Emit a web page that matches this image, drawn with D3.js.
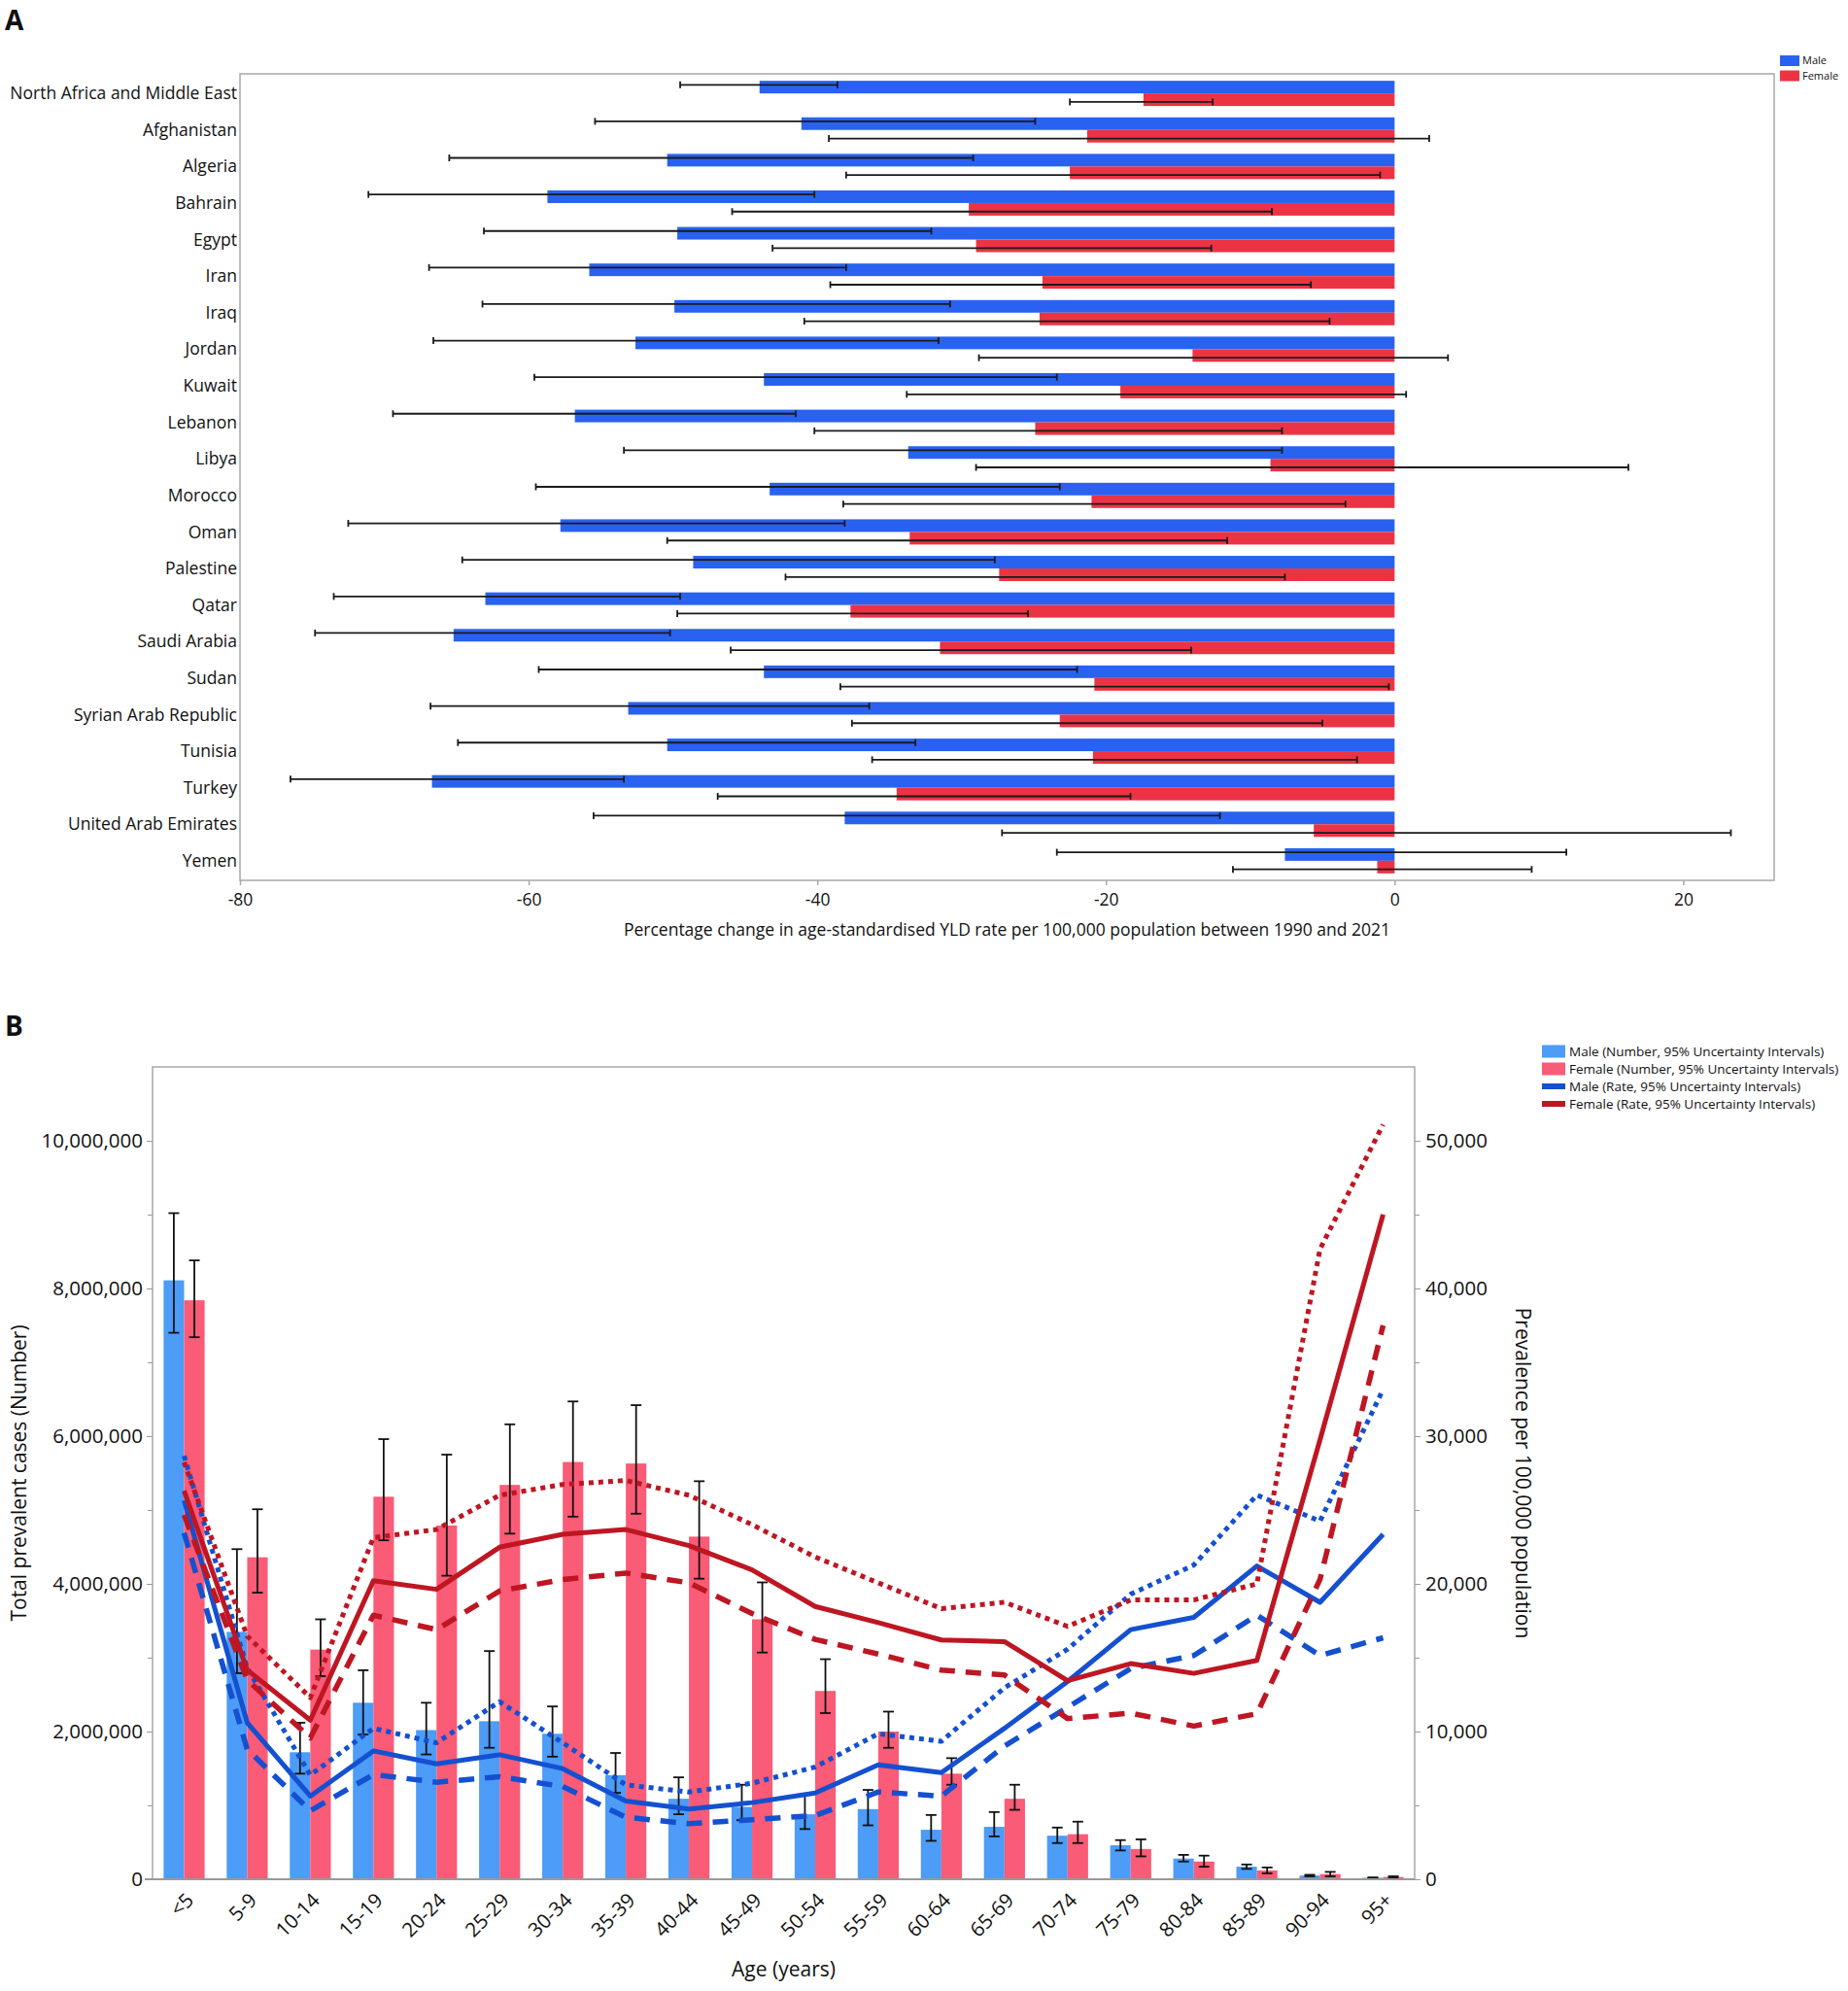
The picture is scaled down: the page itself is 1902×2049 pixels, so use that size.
<!DOCTYPE html>
<html>
<head>
<meta charset="utf-8">
<script src="https://cdn.jsdelivr.net/npm/d3@7"></script>
<style>
  body { margin: 0; background: #fff; }
  text { font-family: "Open Sans", "Noto Sans", sans-serif; fill: #111; }
</style>
</head>
<body>
<div id="chart"></div>
<script>
// ---------- panel A data (percentage change 1990-2021)
const countries = ["North Africa and Middle East", "Afghanistan", "Algeria", "Bahrain", "Egypt", "Iran", "Iraq",
    "Jordan", "Kuwait", "Lebanon", "Libya", "Morocco", "Oman", "Palestine", "Qatar", "Saudi Arabia", "Sudan",
    "Syrian Arab Republic", "Tunisia", "Turkey", "United Arab Emirates", "Yemen"];
const maleChange = [-44.0, -41.1, -50.4, -58.7, -49.7, -55.8, -49.9, -52.6, -43.7, -56.8, -33.7, -43.3, -57.8, -48.6, -63.0, -65.2, -43.7, -53.1, -50.4, -66.7, -38.1, -7.6];
const maleLower = [-49.5, -55.4, -65.5, -71.1, -63.1, -66.9, -63.2, -66.6, -59.6, -69.4, -53.4, -59.5, -72.5, -64.6, -73.5, -74.8, -59.3, -66.8, -64.9, -76.5, -55.5, -23.4];
const maleUpper = [-38.6, -24.9, -29.2, -40.2, -32.1, -38.0, -30.8, -31.6, -23.4, -41.5, -7.8, -23.2, -38.1, -27.7, -49.5, -50.2, -22.0, -36.4, -33.2, -53.4, -12.1, 11.9];
const femaleChange = [-17.4, -21.3, -22.5, -29.5, -29.0, -24.4, -24.6, -14.0, -19.0, -24.9, -8.6, -21.0, -33.6, -27.4, -37.7, -31.5, -20.8, -23.2, -20.9, -34.5, -5.6, -1.2];
const femaleLower = [-22.5, -39.2, -38.0, -45.9, -43.1, -39.1, -40.9, -28.8, -33.8, -40.2, -29.0, -38.2, -50.4, -42.2, -49.7, -46.0, -38.4, -37.6, -36.2, -46.9, -27.2, -11.2];
const femaleUpper = [-12.6, 2.4, -1.0, -8.5, -12.7, -5.8, -4.5, 3.7, 0.8, -7.8, 16.2, -3.4, -11.6, -7.6, -25.4, -14.1, -0.4, -5.0, -2.6, -18.3, 23.3, 9.5];
const xTicksA = [-80, -60, -40, -20, 0, 20];

// ---------- panel B data (prevalent cases and rate by age)
const ageGroups = ["<5", "5-9", "10-14", "15-19", "20-24", "25-29", "30-34", "35-39", "40-44", "45-49",
    "50-54", "55-59", "60-64", "65-69", "70-74", "75-79", "80-84", "85-89", "90-94", "95+"];
const maleNumber = [8110000, 3350000, 1720000, 2390000, 2020000, 2140000, 1970000, 1410000, 1090000, 980000, 880000, 950000, 670000, 710000, 590000, 460000, 280000, 170000, 50000, 20000];
const maleNumLower = [7400000, 2790000, 1430000, 1960000, 1690000, 1780000, 1660000, 1170000, 880000, 800000, 680000, 730000, 520000, 580000, 490000, 390000, 240000, 140000, 40000, 15000];
const maleNumUpper = [9020000, 4470000, 2120000, 2830000, 2390000, 3090000, 2340000, 1710000, 1380000, 1280000, 1150000, 1210000, 870000, 910000, 700000, 530000, 330000, 200000, 60000, 25000];
const femaleNumber = [7840000, 4360000, 3110000, 5180000, 4790000, 5340000, 5650000, 5630000, 4640000, 3520000, 2550000, 2000000, 1430000, 1090000, 610000, 410000, 240000, 120000, 70000, 30000];
const femaleNumLower = [7340000, 3880000, 2750000, 4590000, 4110000, 4680000, 4910000, 4950000, 4070000, 3070000, 2250000, 1780000, 1280000, 940000, 490000, 310000, 170000, 80000, 40000, 20000];
const femaleNumUpper = [8380000, 5010000, 3520000, 5960000, 5750000, 6160000, 6470000, 6420000, 5390000, 4020000, 2980000, 2270000, 1640000, 1280000, 780000, 540000, 320000, 160000, 100000, 40000];
const maleRate = [25650, 10600, 5630, 8690, 7810, 8430, 7490, 5300, 4750, 5190, 5840, 7750, 7220, 10220, 13390, 16900, 17730, 21210, 18750, 23360];
const maleRateUpper = [28670, 14300, 7050, 10220, 9240, 12020, 9240, 6390, 5910, 6500, 7600, 9850, 9340, 12960, 15580, 19300, 21270, 26010, 24250, 33170];
const maleRateLower = [23460, 8800, 4640, 7090, 6570, 6940, 6280, 4200, 3760, 4030, 4310, 5910, 5630, 9020, 11640, 14270, 15150, 17880, 15150, 16350];
const femaleRate = [26310, 14160, 10770, 20220, 19630, 22480, 23360, 23680, 22590, 20950, 18470, 17380, 16200, 16090, 13440, 14600, 13940, 14820, 29750, 45010];
const femaleRateUpper = [28230, 16460, 12300, 23130, 23680, 26000, 26730, 27000, 26000, 24010, 21820, 20070, 18320, 18760, 17120, 18910, 18910, 20000, 42660, 51100];
const femaleRateLower = [24670, 13500, 9570, 17880, 16900, 19520, 20290, 20730, 20070, 17990, 16240, 15250, 14160, 13830, 10880, 11250, 10370, 11210, 20300, 37500];
const numTicks = [0, 2000000, 4000000, 6000000, 8000000, 10000000];
const rateTicks = [0, 10000, 20000, 30000, 40000, 50000];

const svgWidth = 1902;
const svgHeight = 2049;

const svg = d3.select("#chart")
    .append("svg")
    .attr("width", svgWidth)
    .attr("height", svgHeight);

// horizontal error bar with end caps
function hError(g, x1, x2, y, cap) {
    g.append("line").attr("x1", x1).attr("x2", x2).attr("y1", y).attr("y2", y);
    g.append("line").attr("x1", x1).attr("x2", x1).attr("y1", y - cap).attr("y2", y + cap);
    g.append("line").attr("x1", x2).attr("x2", x2).attr("y1", y - cap).attr("y2", y + cap);
}
function vError(g, x, y1, y2, cap) {
    g.append("line").attr("x1", x).attr("x2", x).attr("y1", y1).attr("y2", y2);
    g.append("line").attr("x1", x - cap).attr("x2", x + cap).attr("y1", y1).attr("y2", y1);
    g.append("line").attr("x1", x - cap).attr("x2", x + cap).attr("y1", y2).attr("y2", y2);
}

// =============== PANEL A
const frameA = { left: 247, right: 1826, top: 76, bottom: 906 };

const xA = d3.scaleLinear().domain([-80, 26.3]).range([frameA.left, frameA.right]);
const yA = d3.scaleBand().domain(countries)
    .range([frameA.top, frameA.bottom])
    .paddingInner(0.31)
    .paddingOuter(0.19);
const bwA = yA.bandwidth();

const panelA = svg.append("g");

panelA.append("text")
    .attr("x", 5).attr("y", 31)
    .attr("font-size", 28).attr("font-weight", "bold")
    .text("A");

panelA.append("rect")
    .attr("x", frameA.left).attr("y", frameA.top)
    .attr("width", frameA.right - frameA.left)
    .attr("height", frameA.bottom - frameA.top)
    .attr("fill", "none")
    .attr("stroke", "#a8a8a8")
    .attr("stroke-width", 1.5);

panelA.selectAll(".male-bar")
    .data(countries)
    .enter()
    .append("rect")
    .attr("x", (d, i) => xA(Math.min(0, maleChange[i])))
    .attr("width", (d, i) => Math.abs(xA(maleChange[i]) - xA(0)))
    .attr("y", d => yA(d))
    .attr("height", bwA / 2)
    .attr("fill", "#2962f0");

panelA.selectAll(".female-bar")
    .data(countries)
    .enter()
    .append("rect")
    .attr("x", (d, i) => xA(Math.min(0, femaleChange[i])))
    .attr("width", (d, i) => Math.abs(xA(femaleChange[i]) - xA(0)))
    .attr("y", d => yA(d) + bwA / 2)
    .attr("height", bwA / 2)
    .attr("fill", "#ec3344");

const errA = panelA.append("g").attr("stroke", "#1a1a1a").attr("stroke-width", 1.8);
countries.forEach((c, i) => {
    hError(errA, xA(maleLower[i]), xA(maleUpper[i]), yA(c) + bwA * 0.16, 3.5);
    hError(errA, xA(femaleLower[i]), xA(femaleUpper[i]), yA(c) + bwA * 0.84, 3.5);
});

// country labels
panelA.selectAll(".country")
    .data(countries)
    .enter()
    .append("text")
    .attr("x", frameA.left - 3)
    .attr("y", d => yA(d) + bwA / 2)
    .attr("dy", "0.35em")
    .attr("text-anchor", "end")
    .attr("font-size", 17.5)
    .text(d => d);

const axisA = panelA.append("g")
    .attr("transform", `translate(0, ${frameA.bottom})`)
    .call(d3.axisBottom(xA).tickValues(xTicksA).tickSize(5).tickPadding(9).tickFormat(d => String(d)));
axisA.select(".domain").remove();
axisA.selectAll("line").attr("stroke", "#a8a8a8").attr("stroke-width", 1.5);
axisA.selectAll("text").attr("font-size", 17.5).attr("font-family", null).attr("fill", "#111");

panelA.append("text")
    .attr("x", (frameA.left + frameA.right) / 2)
    .attr("y", 963)
    .attr("text-anchor", "middle")
    .attr("font-size", 17.5)
    .text("Percentage change in age-standardised YLD rate per 100,000 population between 1990 and 2021");

// legend A
const legendA = panelA.append("g").attr("transform", "translate(1832, 57)");
[["Male", "#2962f0"], ["Female", "#ec3344"]].forEach((item, i) => {
    legendA.append("rect").attr("x", 0).attr("y", i * 15.5).attr("width", 20).attr("height", 11).attr("fill", item[1]);
    legendA.append("text").attr("x", 23).attr("y", i * 15.5 + 5.5).attr("dy", "0.35em")
        .attr("font-size", 11).text(item[0]);
});

// =============== PANEL B
const frameB = { left: 157, right: 1456, top: 1098, bottom: 1934 };

const xB = d3.scaleBand().domain(ageGroups)
    .range([frameB.left, frameB.right])
    .paddingInner(0.35)
    .paddingOuter(0.175);
const bwB = xB.bandwidth();
const yNum = d3.scaleLinear().domain([0, 11000000]).range([frameB.bottom, frameB.top]);
const yRate = d3.scaleLinear().domain([0, 55000]).range([frameB.bottom, frameB.top]);

const panelB = svg.append("g");

panelB.append("text")
    .attr("x", 5).attr("y", 1066)
    .attr("font-size", 28).attr("font-weight", "bold")
    .text("B");

// frame: left, top, right
panelB.append("path")
    .attr("d", `M${frameB.left},${frameB.bottom}V${frameB.top}H${frameB.right}V${frameB.bottom}`)
    .attr("fill", "none")
    .attr("stroke", "#a8a8a8")
    .attr("stroke-width", 1.5);

// bars
panelB.selectAll(".male-num")
    .data(ageGroups)
    .enter()
    .append("rect")
    .attr("x", d => xB(d))
    .attr("width", bwB / 2)
    .attr("y", (d, i) => yNum(maleNumber[i]))
    .attr("height", (d, i) => yNum(0) - yNum(maleNumber[i]))
    .attr("fill", "#4c9cf8");

panelB.selectAll(".female-num")
    .data(ageGroups)
    .enter()
    .append("rect")
    .attr("x", d => xB(d) + bwB / 2)
    .attr("width", bwB / 2)
    .attr("y", (d, i) => yNum(femaleNumber[i]))
    .attr("height", (d, i) => yNum(0) - yNum(femaleNumber[i]))
    .attr("fill", "#fa5b76");

const errB = panelB.append("g").attr("stroke", "#111").attr("stroke-width", 1.8);
ageGroups.forEach((g, i) => {
    vError(errB, xB(g) + bwB / 4, yNum(maleNumUpper[i]), yNum(maleNumLower[i]), 5.5);
    vError(errB, xB(g) + bwB * 3 / 4, yNum(femaleNumUpper[i]), yNum(femaleNumLower[i]), 5.5);
});

// axes
const leftAxis = panelB.append("g")
    .attr("transform", `translate(${frameB.left}, 0)`)
    .call(d3.axisLeft(yNum).tickValues(numTicks).tickSize(6).tickPadding(4).tickFormat(d3.format(",")));
panelB.append("g")
    .attr("transform", `translate(${frameB.left}, 0)`)
    .call(d3.axisLeft(yNum).tickValues([1e6, 3e6, 5e6, 7e6, 9e6]).tickSize(5).tickFormat(""))
    .call(g => g.select(".domain").remove())
    .selectAll("line").attr("stroke", "#999");

const rightAxis = panelB.append("g")
    .attr("transform", `translate(${frameB.right}, 0)`)
    .call(d3.axisRight(yRate).tickValues(rateTicks).tickSize(6).tickPadding(5).tickFormat(d3.format(",")));
panelB.append("g")
    .attr("transform", `translate(${frameB.right}, 0)`)
    .call(d3.axisRight(yRate).tickValues([5000, 15000, 25000, 35000, 45000]).tickSize(5).tickFormat(""))
    .call(g => g.select(".domain").remove())
    .selectAll("line").attr("stroke", "#999");

[leftAxis, rightAxis].forEach(ax => {
    ax.select(".domain").remove();
    ax.selectAll("line").attr("stroke", "#999");
    ax.selectAll("text").attr("font-size", 20.5).attr("font-family", null).attr("fill", "#111");
});

const bottomAxis = panelB.append("g")
    .attr("transform", `translate(0, ${frameB.bottom})`)
    .call(d3.axisBottom(xB).tickSize(0).tickFormat(""));
bottomAxis.select(".domain").remove();
panelB.append("line")
    .attr("x1", frameB.left - 8).attr("x2", frameB.right)
    .attr("y1", frameB.bottom).attr("y2", frameB.bottom)
    .attr("stroke", "#999").attr("stroke-width", 2);

panelB.selectAll(".age-label")
    .data(ageGroups)
    .enter()
    .append("text")
    .attr("transform", d => `translate(${xB(d) + bwB / 2 + 11}, ${frameB.bottom + 23}) rotate(-45)`)
    .attr("text-anchor", "end")
    .attr("font-size", 20.5)
    .text(d => d);

// rate lines
const lineB = d3.line()
    .x((d, i) => xB(ageGroups[i]) + bwB / 2)
    .y(d => yRate(d));

const rateSeries = [
    { values: maleRateUpper, color: "#1450d0", dash: "5,5", width: 5 },
    { values: maleRateLower, color: "#1450d0", dash: "16,11", width: 5.5 },
    { values: maleRate, color: "#1450d0", dash: null, width: 5 },
    { values: femaleRateUpper, color: "#be1622", dash: "5,5", width: 5 },
    { values: femaleRateLower, color: "#be1622", dash: "16,11", width: 5.5 },
    { values: femaleRate, color: "#be1622", dash: null, width: 5 }
];

panelB.selectAll(".rate-line")
    .data(rateSeries)
    .enter()
    .append("path")
    .attr("d", d => lineB(d.values))
    .attr("fill", "none")
    .attr("stroke", d => d.color)
    .attr("stroke-width", d => d.width)
    .attr("stroke-dasharray", d => d.dash)
    .attr("stroke-linejoin", "round");

// axis titles
panelB.append("text")
    .attr("transform", `translate(27, ${(frameB.top + frameB.bottom) / 2}) rotate(-90)`)
    .attr("text-anchor", "middle")
    .attr("font-size", 21)
    .text("Total prevalent cases (Number)");

panelB.append("text")
    .attr("transform", `translate(1560, ${(frameB.top + frameB.bottom) / 2}) rotate(90)`)
    .attr("text-anchor", "middle")
    .attr("font-size", 21)
    .text("Prevalence per 100,000 population");

panelB.append("text")
    .attr("x", (frameB.left + frameB.right) / 2)
    .attr("y", 2034)
    .attr("text-anchor", "middle")
    .attr("font-size", 21)
    .text("Age (years)");

// legend B
const legendItems = [
    { label: "Male (Number, 95% Uncertainty Intervals)", color: "#4c9cf8", h: 13 },
    { label: "Female (Number, 95% Uncertainty Intervals)", color: "#fa5b76", h: 13 },
    { label: "Male (Rate, 95% Uncertainty Intervals)", color: "#1450d0", h: 6 },
    { label: "Female (Rate, 95% Uncertainty Intervals)", color: "#be1622", h: 6 }
];
const legendB = panelB.append("g").attr("transform", "translate(1587, 1082)");
legendItems.forEach((item, i) => {
    legendB.append("rect")
        .attr("x", 0).attr("y", i * 18 - item.h / 2)
        .attr("width", 24).attr("height", item.h)
        .attr("fill", item.color);
    legendB.append("text")
        .attr("x", 28).attr("y", i * 18)
        .attr("dy", "0.35em")
        .attr("font-size", 13.5)
        .text(item.label);
});
</script>
</body>
</html>
